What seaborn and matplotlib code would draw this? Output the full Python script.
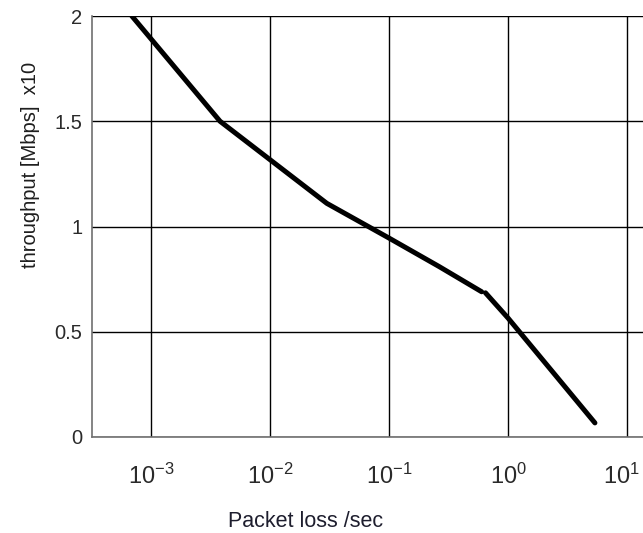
import numpy as np
import pandas as pd
import seaborn as sns
import matplotlib.pyplot as plt
from matplotlib.transforms import ScaledTranslation

# packet loss (per sec) and throughput; two drawn segments
loss_seg1 = [6.9e-4, 3.8e-3, 0.030, 0.10, 0.263, 0.60]
thr_seg1 = [2.0, 1.50, 1.11, 0.945, 0.81, 0.69]
loss_seg2 = [0.646, 1.0, 5.37]
thr_seg2 = [0.685, 0.565, 0.067]

xticks = [1e-3, 1e-2, 1e-1, 1e0, 1e1]
xticklabels = [r'$\mathregular{10^{-3}}$', r'$\mathregular{10^{-2}}$', r'$\mathregular{10^{-1}}$',
               r'$\mathregular{10^{0}}$', r'$\mathregular{10^{1}}$']
yticks = [0, 0.5, 1, 1.5, 2]
yticklabels = ['0', '0.5', '1', '1.5', '2']

df = pd.DataFrame({
    'loss': loss_seg1 + loss_seg2,
    'thr': thr_seg1 + thr_seg2,
    'seg': [1] * len(loss_seg1) + [2] * len(loss_seg2),
})

sns.set_style('white')
plt.rcParams['font.family'] = ['Liberation Sans', 'DejaVu Sans']
plt.rcParams['mathtext.fontset'] = 'custom'
plt.rcParams['mathtext.rm'] = 'Liberation Sans'

fig = plt.figure(figsize=(6.43, 5.33), dpi=100)
ax = fig.add_axes([92 / 643, 96 / 533, 551 / 643, 421 / 533])

sns.lineplot(data=df, x='loss', y='thr', units='seg', estimator=None, sort=False,
             color='black', linewidth=3.6, ax=ax)

ax.set_xscale('log')
ax.set_xlim(10 ** -3.496, 10 ** 1.134)
ax.set_ylim(0, 2)
ax.set_xticks(xticks)
ax.set_xticklabels(xticklabels)
ax.set_yticks(yticks)
ax.set_yticklabels(yticklabels)
ax.minorticks_off()
ax.grid(True, color='black', linewidth=1.0)
ax.set_axisbelow(True)

for s in ['top', 'right']:
    ax.spines[s].set_visible(False)
for s in ['left', 'bottom']:
    ax.spines[s].set_color('#707070')
    ax.spines[s].set_linewidth(1.2)

ax.tick_params(axis='both', direction='in', length=4, color='#707070',
               labelcolor='#2a2a2a')
ax.tick_params(axis='y', pad=7, labelsize=14.5)
ax.tick_params(axis='x', pad=19, labelsize=17)

# last label sits at the right edge, nudge it in a bit
lbl = ax.get_xticklabels()[-1]
lbl.set_transform(lbl.get_transform() + ScaledTranslation(-4 / 72, 0, fig.dpi_scale_trans))

ax.set_xlabel('Packet loss /sec', fontsize=15.5, color='#1e1e2e')
ax.set_ylabel('throughput [Mbps]  x10', fontsize=14.5, color='#1e1e1e')
ax.xaxis.set_label_coords(0.387, -0.175)
ax.yaxis.set_label_coords(-0.094, 0.646)

fig.savefig('out.png', dpi=100)
